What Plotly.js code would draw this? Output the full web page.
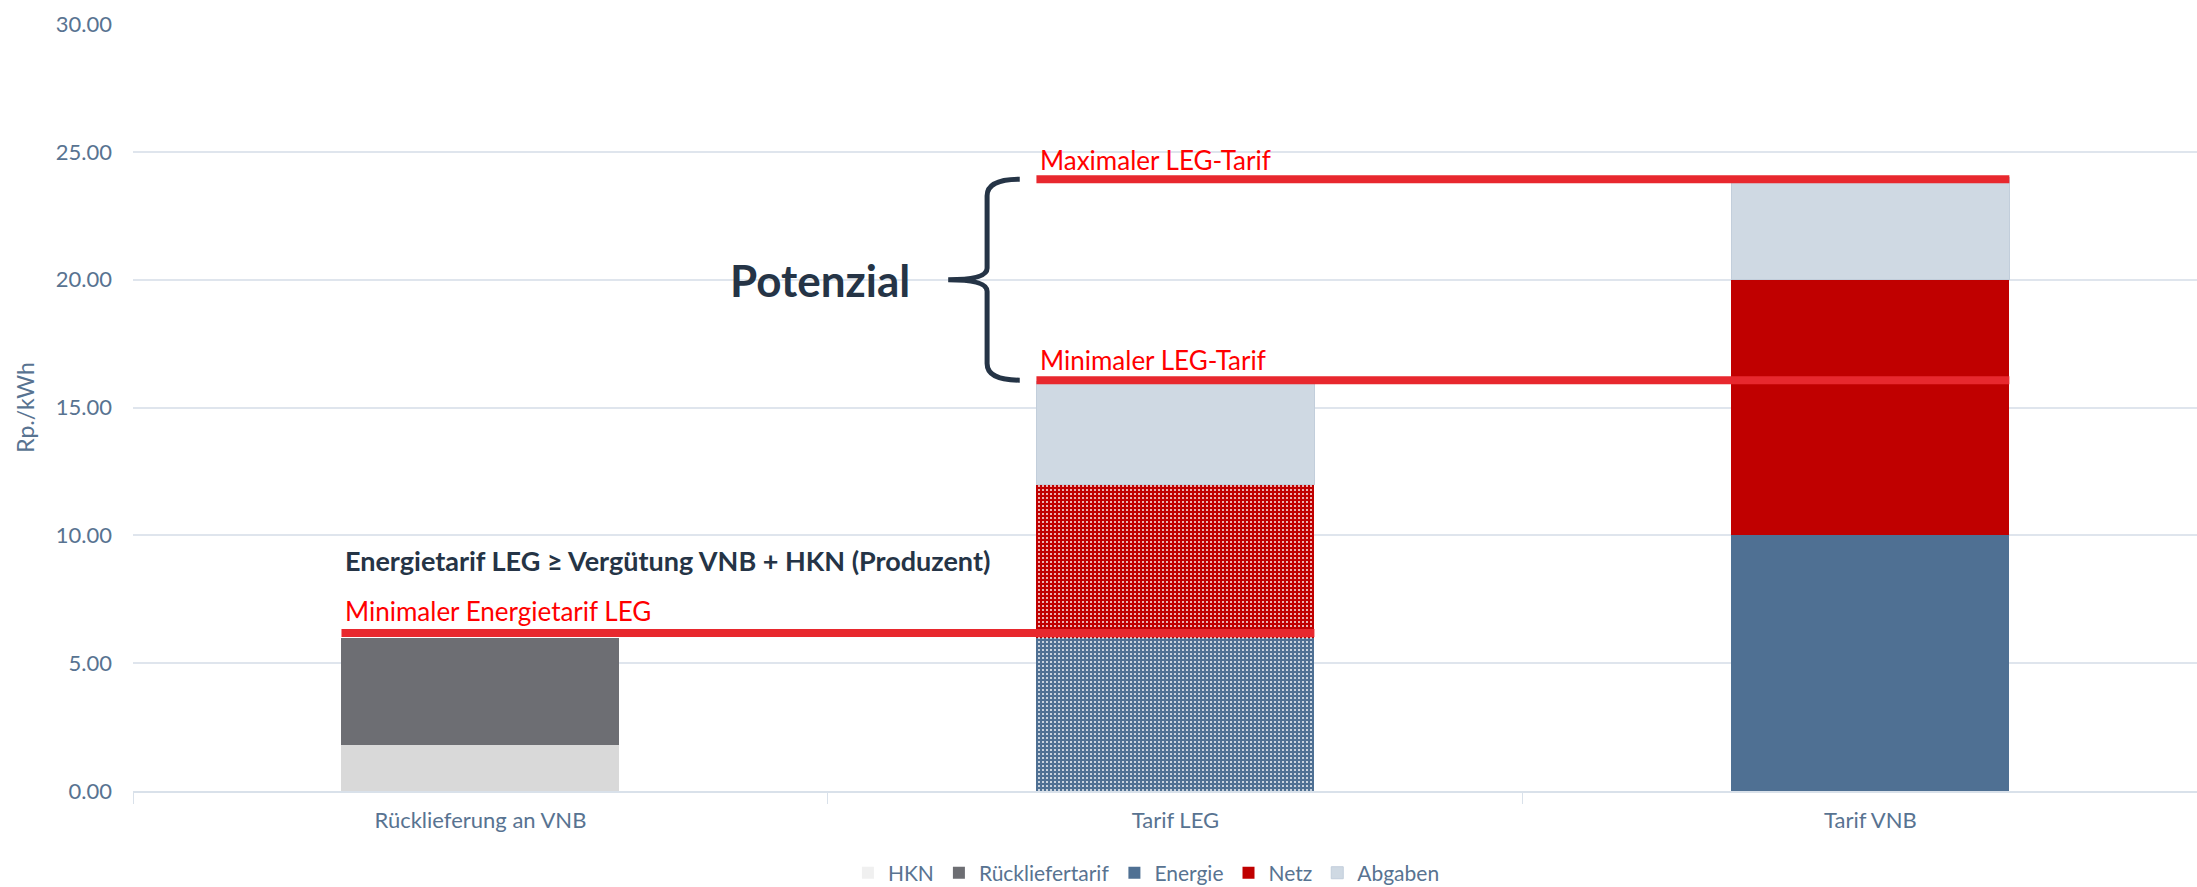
<!DOCTYPE html>
<html>
<head>
<meta charset="utf-8">
<script src="https://cdn.plot.ly/plotly-3.0.1.min.js"></script>
<style>
html,body{margin:0;padding:0;background:#ffffff;overflow:hidden;}
#chart{width:2197px;height:887px;}
</style>
</head>
<body>
<div id="chart"></div>
<script>
// ---------- data ----------
const categories = ['Rücklieferung an VNB', 'Tarif LEG', 'Tarif VNB'];
const hkn = [1.8, null, null];
const rueckliefertarif = [4.2, null, null];
const energie = [null, 6, 10];
const netz = [null, 6, 10];
const abgaben = [null, 4, 4];
const yTicks = [0, 5, 10, 15, 20, 25, 30];

const lineLabels = ['Minimaler Energietarif LEG', 'Minimaler LEG-Tarif', 'Maximaler LEG-Tarif'];
const lineValues = [6.18, 16.07, 23.93];
const lineFromCat = [0, 1, 1];
const lineToCat = [1, 2, 2];
const noteText = 'Energietarif LEG ≥ Vergütung VNB + HKN (Produzent)';
const braceText = 'Potenzial';

// ---------- styles ----------
const tickColor = '#587391';
const darkText = '#253446';
const redLine = '#e8282e';
const bargap = 0.6;
const halfBar = (1 - bargap) / 2;
const xRange = [-0.5, 2.47];
const FONT = 'Lato, "Open Sans", sans-serif';
const energieColor = '#4f7093';
const netzColor = '#c00000';

const dotPattern = (bg) => ({shape: ['', '.', ''], fgcolor: '#ffffff', bgcolor: bg, size: 4, solidity: 0.17, fillmode: 'replace'});

const traces = [
  {type: 'bar', name: 'HKN', x: categories, y: [null, null, null], marker: {color: '#f0f0f0'}, legendgroup: 'hkn', hoverinfo: 'skip'},
  {type: 'bar', name: 'HKN', x: categories, y: hkn, marker: {color: '#d9d9d9'}, legendgroup: 'hkn', showlegend: false},
  {type: 'bar', name: 'Rückliefertarif', x: categories, y: rueckliefertarif, marker: {color: '#6d6e73'}},
  {type: 'bar', name: 'Energie', x: categories, y: energie, marker: {color: energieColor, pattern: dotPattern(energieColor)}},
  {type: 'bar', name: 'Netz', x: categories, y: netz, marker: {color: netzColor, pattern: dotPattern(netzColor)}},
  {type: 'bar', name: 'Abgaben', x: categories, y: abgaben, marker: {color: '#cfd9e3', line: {color: '#c2cedb', width: 1}}}
];

// red horizontal reference lines
const shapes = lineValues.map((v, i) => ({
  type: 'line', xref: 'x', yref: 'y',
  x0: lineFromCat[i] - halfBar, x1: lineToCat[i] + halfBar,
  y0: v, y1: v,
  line: {color: redLine, width: 8}, layer: 'above'
}));

// curly brace between the two LEG-Tarif lines
const toPaper = (x) => (x - xRange[0]) / (xRange[1] - xRange[0]);
const bTop = lineValues[2], bBot = lineValues[1], bMid = (bTop + bBot) / 2;
const xe = toPaper(0.776), xs = toPaper(0.729), xt = toPaper(0.673);
const r1 = 0.65, r2 = 0.45;
const bracePath =
  `M ${xe},${bTop} Q ${xs},${bTop} ${xs},${bTop - r1} ` +
  `L ${xs},${bMid + r2} Q ${xs},${bMid} ${xt},${bMid} ` +
  `Q ${xs},${bMid} ${xs},${bMid - r2} ` +
  `L ${xs},${bBot + r1} Q ${xs},${bBot} ${xe},${bBot}`;
shapes.push({type: 'path', xref: 'paper', yref: 'y', path: bracePath,
  line: {color: darkText, width: 5}, layer: 'above'});

const labelShift = [22, 20, 19];
const annotations = lineLabels.map((t, i) => ({
  text: t, xref: 'x', yref: 'y',
  x: lineFromCat[i] - halfBar, y: lineValues[i],
  xanchor: 'left', yanchor: 'middle', xshift: 2, yshift: labelShift[i],
  showarrow: false, font: {family: FONT, size: 26, color: '#ff0000'}
}));
annotations.push({
  text: '<b>' + noteText + '</b>', xref: 'x', yref: 'y',
  x: lineFromCat[0] - halfBar, y: lineValues[0],
  xanchor: 'left', yanchor: 'middle', xshift: 2, yshift: 73,
  showarrow: false, font: {family: FONT, size: 27, color: darkText}
});
annotations.push({
  text: '<b>' + braceText + '</b>', xref: 'x', yref: 'y',
  x: 0.621, y: bMid,
  xanchor: 'right', yanchor: 'middle',
  showarrow: false, font: {family: FONT, size: 44, color: darkText}
});

const layout = {
  width: 2197, height: 887,
  margin: {l: 133, r: 0, t: 24, b: 96, autoexpand: false},
  paper_bgcolor: '#ffffff', plot_bgcolor: '#ffffff',
  barmode: 'stack', bargap: bargap,
  font: {family: FONT, color: tickColor},
  showlegend: true,
  xaxis: {
    type: 'category', range: xRange, autorange: false,
    ticks: 'outside', tickson: 'boundaries', ticklen: 11, tickwidth: 1, tickcolor: '#d9e1ea',
    showline: true, linecolor: '#d9e1ea', linewidth: 2, showgrid: false, zeroline: false,
    tickfont: {family: FONT, size: 22, color: tickColor}, ticklabelstandoff: 9
  },
  yaxis: {
    range: [0, 30], autorange: false, tickmode: 'array', tickvals: yTicks, tickformat: '.2f',
    showgrid: true, gridcolor: '#dfe5ed', gridwidth: 2, zeroline: false, showline: false,
    ticks: '', ticklabelstandoff: 20,
    tickfont: {family: FONT, size: 22, color: tickColor},
    title: {text: 'Rp./kWh', font: {family: FONT, size: 23, color: tickColor}, standoff: 14}
  },
  legend: {
    orientation: 'h', x: 0.491, xanchor: 'center', y: -0.107, yanchor: 'middle',
    font: {family: FONT, size: 21, color: tickColor}, traceorder: 'normal', itemwidth: 30
  },
  shapes: shapes,
  annotations: annotations
};

Plotly.newPlot('chart', traces, layout, {displayModeBar: false, staticPlot: true});
</script>
</body>
</html>
